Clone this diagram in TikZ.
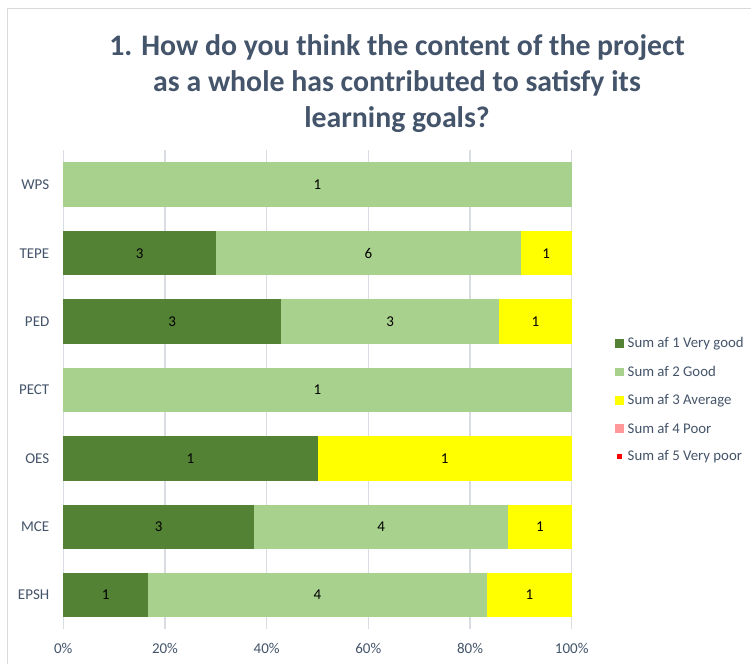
\documentclass[tikz,border=0pt]{standalone}
\usepackage{fontspec}
\setmainfont{Carlito}
\definecolor{vgood}{HTML}{548235}
\definecolor{good}{HTML}{A9D18E}
\definecolor{avg}{HTML}{FFFF00}
\definecolor{poor}{HTML}{FF9999}
\definecolor{vpoor}{HTML}{FF0000}
\definecolor{titlec}{HTML}{44546A}
\definecolor{gridc}{HTML}{D9DDE3}
\definecolor{framec}{HTML}{D9D9D9}
\begin{document}
\begin{tikzpicture}[x=1pt,y=-1pt,
  dlab/.style={font=\fontsize{15}{17}\selectfont,text=black,inner sep=0pt},
  catlab/.style={font=\fontsize{15}{17}\selectfont,text=titlec,anchor=east,inner sep=0pt},
  ticklab/.style={font=\fontsize{15}{17}\selectfont,text=titlec,inner sep=0pt},
  leglab/.style={font=\fontsize{14.8}{17}\selectfont,text=titlec,anchor=west,inner sep=0pt},
  gridl/.style={draw=gridc,line width=1.2pt}]
\useasboundingbox (0,0) rectangle (751,664);
\fill[white] (0,0) rectangle (751,664);
% frame
\draw[framec,line width=1pt] (7,664) -- (7,8) -- (751,8);
% title
\node[font=\bfseries\fontsize{29.8}{36}\selectfont,text=titlec,align=center] (title) at (397,83.5)
  {1. How do you think the content of the project\\as a whole has contributed to satisfy its\\learning goals?};
% gridlines and tick labels
\foreach \p [count=\i from 0] in {0,20,40,60,80,100}{
  \pgfmathsetmacro{\xx}{63.3+\i*101.68}
  \draw[gridl] (\xx,150) -- (\xx,629);
  \node[ticklab] (tick\i) at (\xx,648) {\p\%};
}
\newcommand{\Xof}[1]{63.3+5.084*#1}
% WPS
\fill[good] ({\Xof{0}},162.3) rectangle ({\Xof{100}},206.7);
\node[dlab] (wps2) at ({\Xof{50}},184.5) {1};
\node[catlab] (wps) at (49.5,184.5) {WPS};
% TEPE
\fill[vgood] ({\Xof{0}},231) rectangle ({\Xof{30}},275.4);
\fill[good] ({\Xof{30}},231) rectangle ({\Xof{90}},275.4);
\fill[avg] ({\Xof{90}},231) rectangle ({\Xof{100}},275.4);
\node[dlab] (tepe1) at ({\Xof{15}},253.2) {3};
\node[dlab] (tepe2) at ({\Xof{60}},253.2) {6};
\node[dlab] (tepe3) at ({\Xof{95}},253.2) {1};
\node[catlab] (tepe) at (49.5,253.2) {TEPE};
% PED
\fill[vgood] ({\Xof{0}},299.4) rectangle ({\Xof{42.857}},343.8);
\fill[good] ({\Xof{42.857}},299.4) rectangle ({\Xof{85.714}},343.8);
\fill[avg] ({\Xof{85.714}},299.4) rectangle ({\Xof{100}},343.8);
\node[dlab] (ped1) at ({\Xof{21.43}},321.6) {3};
\node[dlab] (ped2) at ({\Xof{64.29}},321.6) {3};
\node[dlab] (ped3) at ({\Xof{92.86}},321.6) {1};
\node[catlab] (ped) at (49.5,321.6) {PED};
% PECT
\fill[good] ({\Xof{0}},367.8) rectangle ({\Xof{100}},412.2);
\node[dlab] (pect2) at ({\Xof{50}},390) {1};
\node[catlab] (pect) at (49.5,390) {PECT};
% OES
\fill[vgood] ({\Xof{0}},436.2) rectangle ({\Xof{50}},480.6);
\fill[avg] ({\Xof{50}},436.2) rectangle ({\Xof{100}},480.6);
\node[dlab] (oes1) at ({\Xof{25}},458.4) {1};
\node[dlab] (oes3) at ({\Xof{75}},458.4) {1};
\node[catlab] (oes) at (49.5,458.4) {OES};
% MCE
\fill[vgood] ({\Xof{0}},504.6) rectangle ({\Xof{37.5}},549);
\fill[good] ({\Xof{37.5}},504.6) rectangle ({\Xof{87.5}},549);
\fill[avg] ({\Xof{87.5}},504.6) rectangle ({\Xof{100}},549);
\node[dlab] (mce1) at ({\Xof{18.75}},526.8) {3};
\node[dlab] (mce2) at ({\Xof{62.5}},526.8) {4};
\node[dlab] (mce3) at ({\Xof{93.75}},526.8) {1};
\node[catlab] (mce) at (49.5,526.8) {MCE};
% EPSH
\fill[vgood] ({\Xof{0}},572.8) rectangle ({\Xof{16.667}},617.2);
\fill[good] ({\Xof{16.667}},572.8) rectangle ({\Xof{83.333}},617.2);
\fill[avg] ({\Xof{83.333}},572.8) rectangle ({\Xof{100}},617.2);
\node[dlab] (epsh1) at ({\Xof{8.33}},595) {1};
\node[dlab] (epsh2) at ({\Xof{50}},595) {4};
\node[dlab] (epsh3) at ({\Xof{91.67}},595) {1};
\node[catlab] (epsh) at (49.5,595) {EPSH};
% legend
\fill[vgood] (615,339) rectangle (623.5,347.5);
\node[leglab] (leg1) at (627.5,343.3) {Sum af 1 Very good};
\fill[good] (615,367.5) rectangle (623.5,376);
\node[leglab] (leg2) at (627.5,371.7) {Sum af 2 Good};
\fill[avg] (615,396) rectangle (623.5,404.5);
\node[leglab] (leg3) at (627.5,400.2) {Sum af 3 Average};
\fill[poor] (615,424) rectangle (623.5,432.5);
\node[leglab] (leg4) at (627.5,428.4) {Sum af 4 Poor};
\fill[vpoor] (616.5,453.5) rectangle (622,459);
\node[leglab] (leg5) at (627.5,456.7) {Sum af 5 Very poor};
\end{tikzpicture}
\end{document}
